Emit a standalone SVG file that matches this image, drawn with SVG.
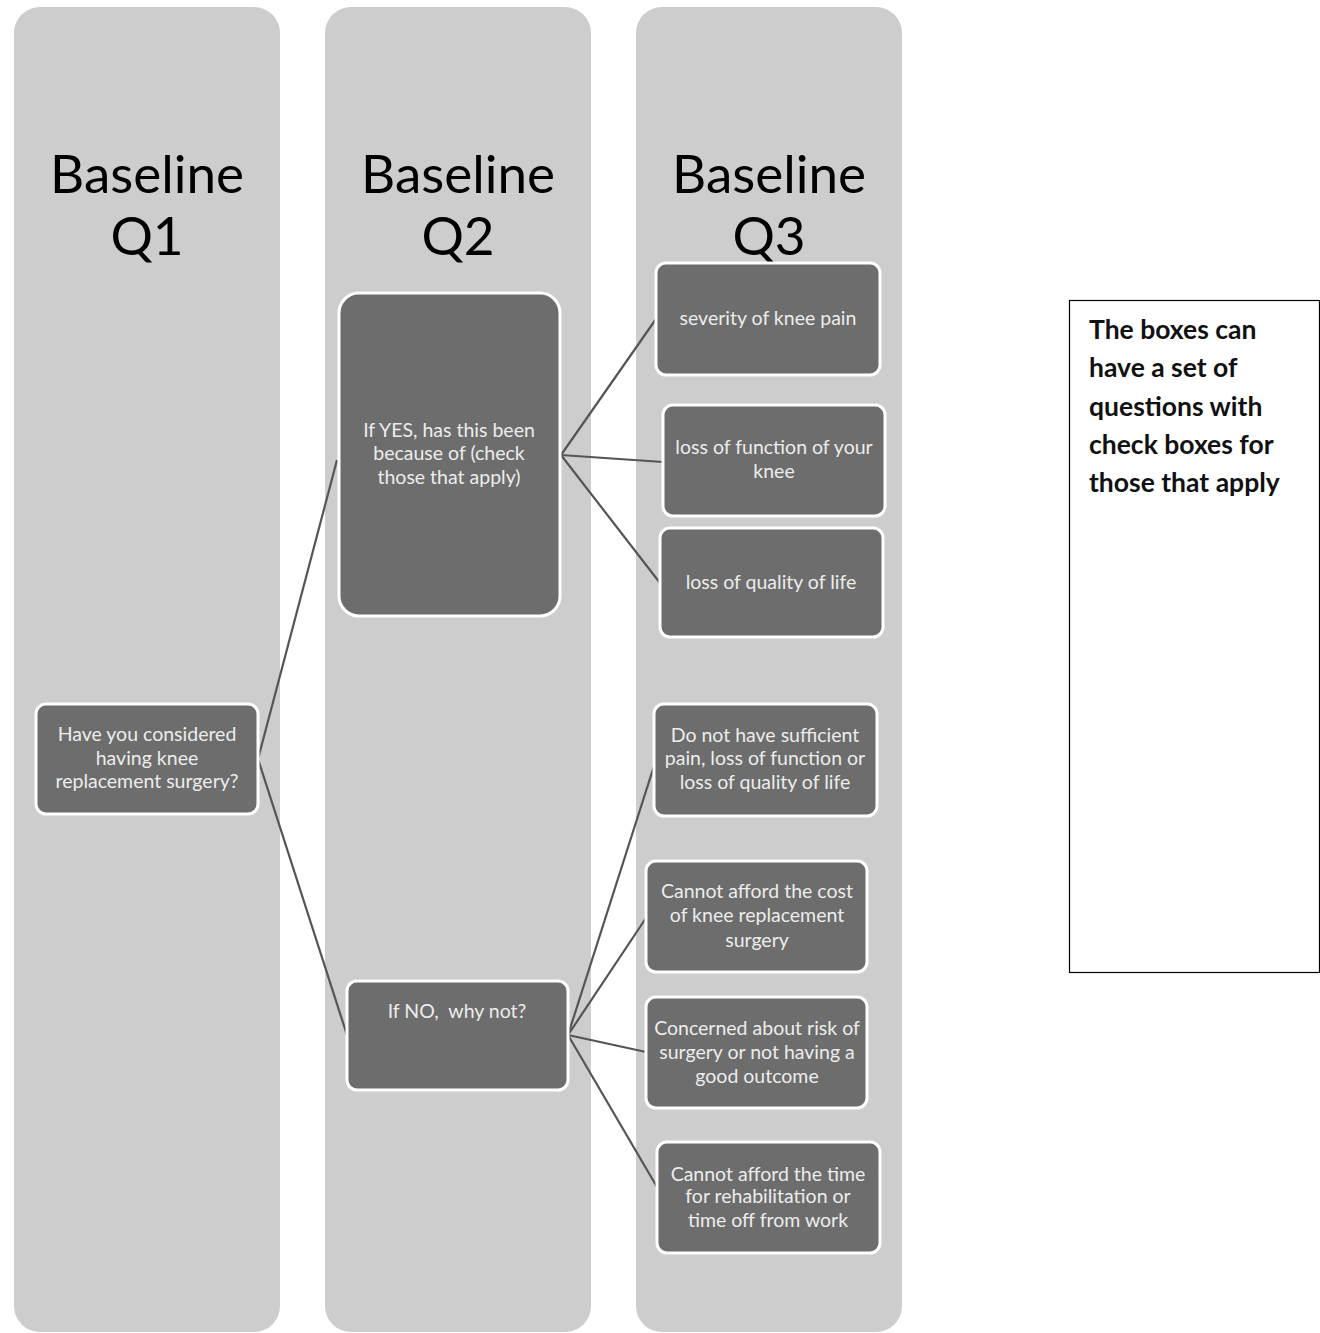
<svg xmlns="http://www.w3.org/2000/svg" width="1320" height="1333" viewBox="0 0 1320 1333">
<style>
.col{fill:#cdcdcd}
.head{font-family:Lato,"Open Sans","Liberation Sans",sans-serif;font-size:53px;fill:#000;text-anchor:middle}
.box{fill:#6d6d6d;stroke:#ffffff;stroke-width:3}
.t{font-family:Lato,"Open Sans","Liberation Sans",sans-serif;font-size:19.5px;fill:#ececec;text-anchor:middle}
.conn{stroke:#555555;stroke-width:2.2;fill:none}
.note{font-family:Lato,"Open Sans","Liberation Sans",sans-serif;font-size:26.5px;font-weight:bold;fill:#111}
</style>
<rect width="1320" height="1333" fill="#ffffff"/>
<g id="columns">
<rect class="col" x="14" y="7" width="266" height="1325" rx="26"/>
<rect class="col" x="325" y="7" width="266" height="1325" rx="26"/>
<rect class="col" x="636" y="7" width="266" height="1325" rx="26"/>
<text class="head" x="147" y="193">Baseline</text>
<text class="head" x="147" y="255">Q1</text>
<text class="head" x="458" y="193">Baseline</text>
<text class="head" x="458" y="255">Q2</text>
<text class="head" x="769" y="193">Baseline</text>
<text class="head" x="769" y="255">Q3</text>
</g>
<g id="connectors">
<line class="conn" x1="258" y1="759" x2="337" y2="460"/>
<line class="conn" x1="258" y1="759" x2="347" y2="1035"/>
<line class="conn" x1="561" y1="455" x2="656" y2="319"/>
<line class="conn" x1="561" y1="455" x2="663" y2="462"/>
<line class="conn" x1="561" y1="455" x2="660" y2="583"/>
<line class="conn" x1="568" y1="1035" x2="654" y2="766"/>
<line class="conn" x1="568" y1="1035" x2="646" y2="918"/>
<line class="conn" x1="568" y1="1035" x2="646" y2="1052"/>
<line class="conn" x1="568" y1="1035" x2="657" y2="1187"/>
</g>
<g id="q1">
<rect class="box" x="36" y="704" width="222" height="110" rx="10"/>
<text class="t" x="147" y="741">Have you considered</text>
<text class="t" x="147" y="765">having knee</text>
<text class="t" x="147" y="788">replacement surgery?</text>
</g>
<g id="yes">
<rect class="box" x="339" y="293" width="221" height="323" rx="20"/>
<text class="t" x="449" y="437">If YES, has this been</text>
<text class="t" x="449" y="460">because of (check</text>
<text class="t" x="449" y="484">those that apply)</text>
</g>
<g id="no">
<rect class="box" x="347" y="981" width="221" height="109" rx="10"/>
<text class="t" x="457" y="1018" xml:space="preserve">If NO,  why not?</text>
</g>
<g id="severity">
<rect class="box" x="656" y="263" width="224" height="112" rx="10"/>
<text class="t" x="768" y="325">severity of knee pain</text>
</g>
<g id="function">
<rect class="box" x="663" y="405" width="222" height="111" rx="10"/>
<text class="t" x="774" y="454">loss of function of your</text>
<text class="t" x="774" y="478">knee</text>
</g>
<g id="quality">
<rect class="box" x="660" y="528" width="223" height="109" rx="10"/>
<text class="t" x="771" y="589">loss of quality of life</text>
</g>
<g id="notsufficient">
<rect class="box" x="654" y="704" width="223" height="112" rx="10"/>
<text class="t" x="765" y="742">Do not have sufficient</text>
<text class="t" x="765" y="765">pain, loss of function or</text>
<text class="t" x="765" y="789">loss of quality of life</text>
</g>
<g id="cost">
<rect class="box" x="646" y="861" width="221" height="111" rx="10"/>
<text class="t" x="757" y="898">Cannot afford the cost</text>
<text class="t" x="757" y="922">of knee replacement</text>
<text class="t" x="757" y="947">surgery</text>
</g>
<g id="risk">
<rect class="box" x="646" y="997" width="221" height="111" rx="10"/>
<text class="t" x="757" y="1035">Concerned about risk of</text>
<text class="t" x="757" y="1059">surgery or not having a</text>
<text class="t" x="757" y="1083">good outcome</text>
</g>
<g id="time">
<rect class="box" x="657" y="1142" width="223" height="111" rx="10"/>
<text class="t" x="768" y="1181">Cannot afford the time</text>
<text class="t" x="768" y="1203">for rehabilitation or</text>
<text class="t" x="768" y="1227">time off from work</text>
</g>
<g id="note">
<rect x="1069.5" y="300.5" width="250" height="672" fill="#ffffff" stroke="#000" stroke-width="1.2"/>
<text class="note" x="1089" y="339">The boxes can</text>
<text class="note" x="1089" y="377">have a set of</text>
<text class="note" x="1089" y="416">questions with</text>
<text class="note" x="1089" y="454">check boxes for</text>
<text class="note" x="1089" y="492">those that apply</text>
</g>
</svg>
